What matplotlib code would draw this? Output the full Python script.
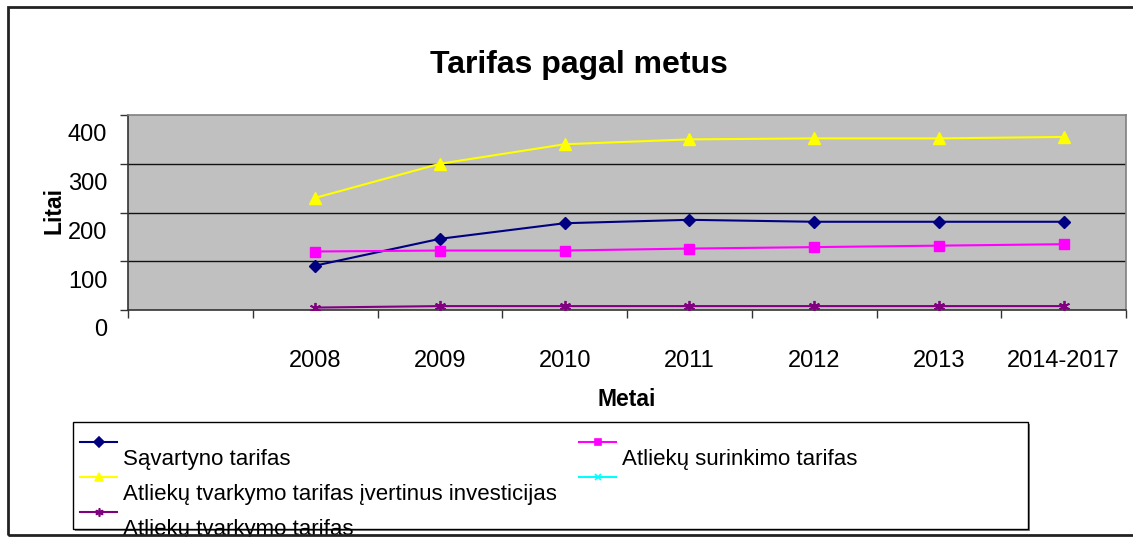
import numpy as np
import matplotlib
matplotlib.use("Agg")
import matplotlib.pyplot as plt
from matplotlib.lines import Line2D
from matplotlib.patches import Rectangle
from matplotlib.transforms import ScaledTranslation

plt.rcParams['font.family'] = ['Liberation Sans', 'DejaVu Sans']

# data (first category is empty)
categories = ["", "2008", "2009", "2010", "2011", "2012", "2013", "2014-2017"]
savartyno = [np.nan, 91, 146, 178, 185, 181, 181, 181]
surinkimo = [np.nan, 120, 122, 122, 126, 129, 132, 135]
su_invest = [np.nan, 230, 300, 340, 350, 352, 352, 355]
tvarkymo = [np.nan, 5, 8, 8, 8, 8, 8, 8]
yticks = [0, 100, 200, 300, 400]

W, H = 1133, 537
fig = plt.figure(figsize=(W / 100, H / 100), dpi=100)


def px(x, y):
    return x / W, 1 - y / H


ax = fig.add_axes([128 / W, 1 - 310 / H, 998 / W, 195 / H])
ax.set_facecolor('#c0c0c0')
x = np.arange(len(categories))

ax.plot(x, savartyno, color='#000080', lw=1.5, marker='D', ms=6.5, zorder=3)
ax.plot(x, surinkimo, color='#ff00ff', lw=1.5, marker='s', ms=6.5, zorder=3)
ax.plot(x, su_invest, color='#ffff00', lw=1.5, marker='^', ms=8, zorder=3)
ax.plot(x, tvarkymo, color='#800080', lw=1.5, marker=(6, 2, 0), ms=8, mew=1.3, zorder=3)

ax.set_xlim(-0.5, len(categories) - 0.5)
ax.set_ylim(0, 400)
ax.set_yticks(yticks)
ax.set_yticklabels([str(v) for v in yticks], fontsize=17)
ax.tick_params(axis='y', length=6, width=1, color='#333333', pad=9)
for lab in ax.get_yticklabels():
    lab.set_transform(lab.get_transform() + ScaledTranslation(0, -0.18, fig.dpi_scale_trans))

ax.set_xticks(x)
ax.set_xticklabels(categories, fontsize=17)
ax.set_xticks(np.arange(-0.5, len(categories)), minor=True)
ax.tick_params(axis='x', which='major', length=0, pad=29)
ax.tick_params(axis='x', which='minor', length=6, width=1, color='#333333')

for v in yticks[1:-1]:
    ax.axhline(v, color='#111111', lw=1, zorder=1)
for s in ['top', 'right']:
    ax.spines[s].set_color('#808080')
for s in ['left', 'bottom']:
    ax.spines[s].set_color('#333333')
for s in ax.spines.values():
    s.set_linewidth(1.2)

fig.text(*px(579, 73), "Tarifas pagal metus", fontsize=23, fontweight='bold',
         ha='center', va='baseline')
fig.text(*px(54, 211), "Litai", fontsize=16.5, fontweight='bold',
         rotation=90, ha='center', va='center')
fig.text(*px(627, 400), "Metai", fontsize=16.5, fontweight='bold',
         ha='center', va='center')

# legend box
fig.add_artist(Rectangle(px(75, 531), 955 / W, 107 / H, transform=fig.transFigure,
                         facecolor='#808080', edgecolor='none', zorder=4))
fig.add_artist(Rectangle(px(73, 529), 955 / W, 107 / H, transform=fig.transFigure,
                         facecolor='white', edgecolor='black', lw=1, zorder=5))

entries = [
    ("Sąvartyno tarifas", '#000080', 'D', 5, 80, 442),
    ("Atliekų surinkimo tarifas", '#ff00ff', 's', 5, 579, 442),
    ("Atliekų tvarkymo tarifas įvertinus investicijas", '#ffff00', '^', 6, 80, 477),
    ("", '#00ffff', 'x', 5, 579, 477),
    ("Atliekų tvarkymo tarifas", '#800080', (6, 2, 0), 6, 80, 512),
]
for label, col, mk, ms, lx, ly in entries:
    x0, y0 = px(lx, ly)
    x1, _ = px(lx + 37, ly)
    fig.add_artist(Line2D([x0, x1], [y0, y0], transform=fig.transFigure, color=col,
                          lw=1.5, zorder=6))
    fig.add_artist(Line2D([(x0 + x1) / 2], [y0], transform=fig.transFigure, color=col,
                          marker=mk, ms=ms, mew=1.2, zorder=6))
    if label:
        fig.text(*px(lx + 43, ly + 23), label, fontsize=16, ha='left', va='baseline',
                 zorder=6)

# outer chart border
fig.add_artist(Rectangle(px(8, 535), 1140 / W, 528 / H, transform=fig.transFigure,
                         facecolor='none', edgecolor='#222222', lw=2, zorder=10,
                         clip_on=False))

fig.savefig("out.png", dpi=100)
